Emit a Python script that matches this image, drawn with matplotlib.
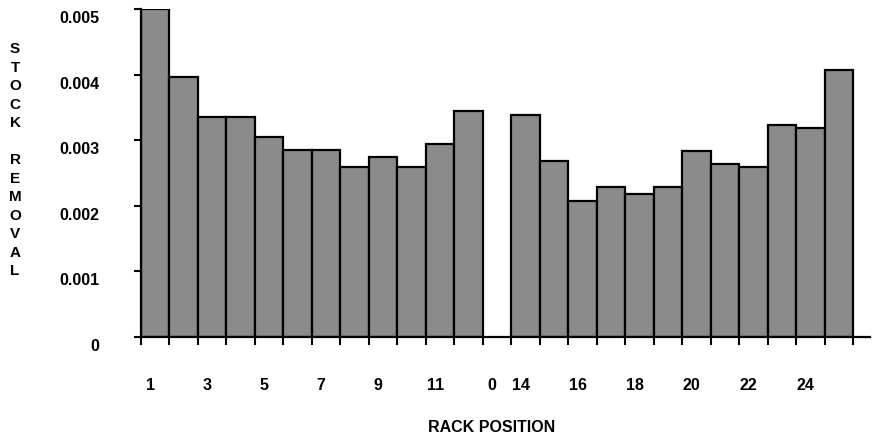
import numpy as np
import matplotlib
matplotlib.use("Agg")
import matplotlib.pyplot as plt
import matplotlib.transforms as mtransforms

plt.rcParams['font.family'] = ['Liberation Sans', 'DejaVu Sans']
plt.rcParams['font.weight'] = 'bold'

# rack positions 1..25, slot 13 is empty (labelled "0")
positions = np.arange(1, 26)
removal = [0.00500, 0.00396, 0.00335, 0.00335, 0.00305, 0.00285, 0.00285,
           0.00259, 0.00274, 0.00259, 0.00294, 0.00344, 0.0,
           0.00338, 0.00268, 0.00207, 0.00229, 0.00218, 0.00229, 0.00284,
           0.00264, 0.00259, 0.00323, 0.00319, 0.00407]
label_pos = [1, 3, 5, 7, 9, 11, 13, 14, 16, 18, 20, 22, 24]
label_txt = ['1', '3', '5', '7', '9', '11', '0', '14', '16', '18', '20', '22', '24']
yticks = [0, 0.001, 0.002, 0.003, 0.004, 0.005]
ytick_txt = ['0', '0.001', '0.002', '0.003', '0.004', '0.005']

fig = plt.figure(figsize=(8.78, 4.35), dpi=100)
ax = fig.add_axes([0.1606, 0.223, 0.830, 0.754])

vals = np.array(removal)
mask = vals > 0
ax.bar(positions[mask], vals[mask], width=1.0, color='#8b8b8b',
       edgecolor='black', linewidth=1.6, zorder=2)

ax.set_xlim(0.5, 26.08)
ax.set_ylim(0, 0.005)

ax.spines['top'].set_visible(False)
ax.spines['right'].set_visible(False)
ax.spines['left'].set_linewidth(1.6)
ax.spines['bottom'].set_linewidth(1.6)
ax.spines['left'].set_zorder(3)
ax.spines['bottom'].set_zorder(3)

# tick marks at bar edges, labels at bar centres
ax.set_xticks(np.arange(0.5, 26, 1.0))
ax.set_xticklabels([])
ax.tick_params(axis='x', which='major', direction='out', length=6, width=1.5)
ax.set_xticks(label_pos, minor=True)
ax.set_xticklabels(label_txt, minor=True, fontsize=11.5, fontweight='bold')
ax.tick_params(axis='x', which='minor', length=0, pad=29)

ax.set_yticks(yticks)
ax.set_yticklabels(ytick_txt, fontsize=11.5, fontweight='bold')
ax.tick_params(axis='y', direction='out', length=5, width=1.5, pad=25)

# labels in the scan sit a little left / below their ticks
dx = mtransforms.ScaledTranslation(-5 / 100, 0, fig.dpi_scale_trans)
for lbl in ax.get_xticklabels(minor=True):
    lbl.set_transform(lbl.get_transform() + dx)
dy = mtransforms.ScaledTranslation(0, -7 / 100, fig.dpi_scale_trans)
for lbl in ax.get_yticklabels():
    lbl.set_transform(lbl.get_transform() + dy)

fig.text(0.5604, 0.006, 'RACK POSITION', ha='center', va='baseline',
         fontsize=11.5, fontweight='bold')
fig.text(0.0171, 0.632, '\n'.join('STOCK REMOVAL'), ha='center', va='center',
         fontsize=11, fontweight='bold', linespacing=1.41)

fig.savefig('out.png', dpi=100)
